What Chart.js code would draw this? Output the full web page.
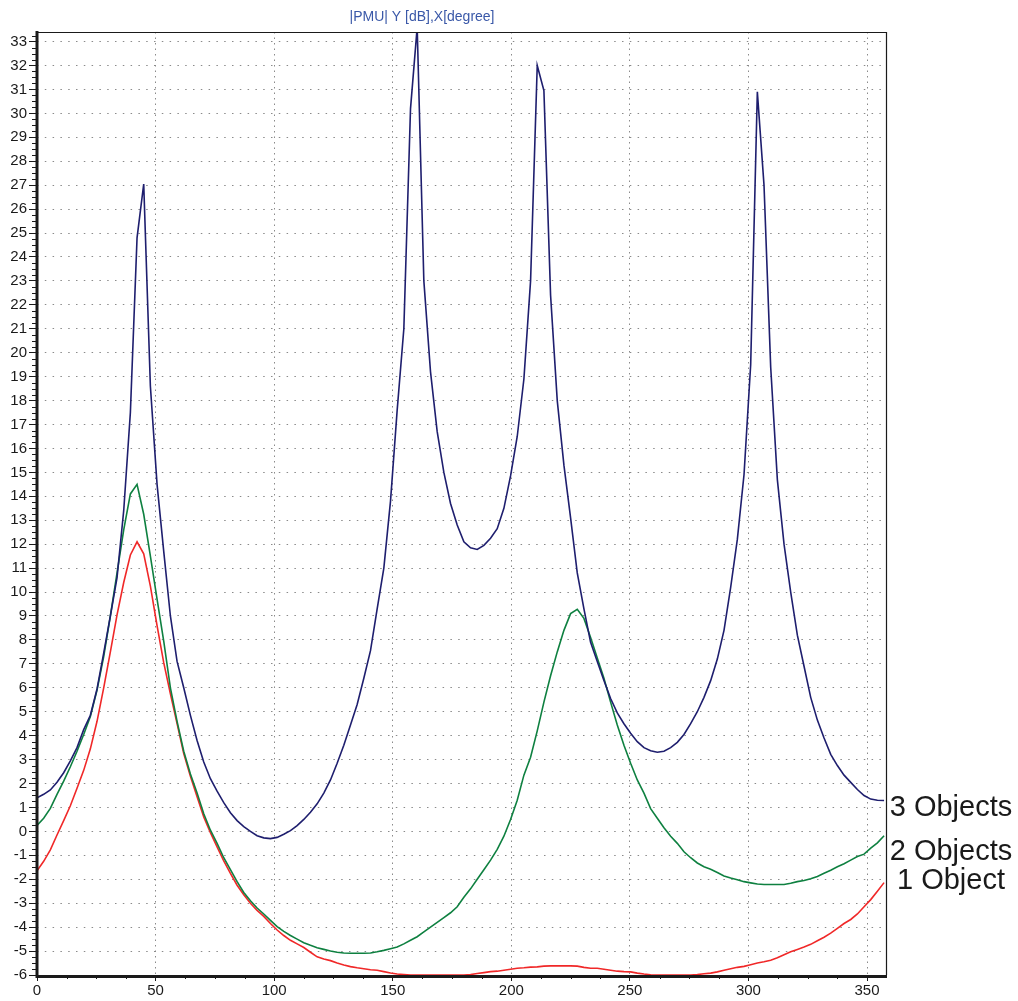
<!DOCTYPE html>
<html>
<head>
<meta charset="utf-8">
<script src="https://cdn.jsdelivr.net/npm/chart.js@4/dist/chart.umd.min.js"></script>
<style>
  html, body { margin: 0; padding: 0; background: #fff; }
  #wrap { width: 1018px; height: 1001px; }
</style>
</head>
<body>
<div id="wrap"><canvas id="myChart" width="1018" height="1001"></canvas></div>
<script>
// sampling grid: 128 angles over 360 degrees
const degrees = Array.from({length: 128}, (_, i) => i * 360 / 128);

const oneObject = [
  -1.65, -1.25, -0.77, -0.15, 0.45, 1.07, 1.8, 2.55, 3.45, 4.6,
  6.0, 7.5, 9.05, 10.4, 11.55, 12.1, 11.6, 10.25, 8.6, 7.05,
  5.75, 4.5, 3.25, 2.3, 1.45, 0.6, -0.05, -0.65, -1.23, -1.75,
  -2.25, -2.65, -3.0, -3.3, -3.55, -3.85, -4.12, -4.35, -4.55, -4.7,
  -4.85, -5.05, -5.24, -5.33, -5.4, -5.5, -5.58, -5.65, -5.7, -5.74,
  -5.78, -5.8, -5.86, -5.92, -5.96, -5.98, -6.0, -6.0, -6.0, -6.0,
  -6.0, -6.0, -6.0, -6.0, -6.0, -5.98, -5.94, -5.9, -5.86, -5.84,
  -5.8, -5.76, -5.72, -5.7, -5.67, -5.66, -5.63, -5.62, -5.62, -5.62,
  -5.62, -5.63, -5.68, -5.72, -5.72, -5.76, -5.8, -5.84, -5.86, -5.87,
  -5.92, -5.96, -5.99, -6.0, -6.0, -6.0, -6.0, -6.0, -6.0, -5.98,
  -5.95, -5.92, -5.87, -5.8, -5.74, -5.68, -5.64, -5.57, -5.5, -5.45,
  -5.38, -5.28, -5.15, -5.03, -4.93, -4.83, -4.72, -4.57, -4.42, -4.25,
  -4.05, -3.85, -3.68, -3.45, -3.15, -2.85, -2.5, -2.14
];

const twoObjects = [
  0.25, 0.55, 0.96, 1.55, 2.1, 2.7, 3.35, 4.05, 4.8, 5.9,
  7.3, 9.0, 10.8, 12.6, 14.1, 14.5, 13.25, 11.5, 9.7, 7.95,
  6.0, 4.6, 3.35, 2.4, 1.6, 0.74, 0.05, -0.5, -1.1, -1.6,
  -2.1, -2.55, -2.9, -3.2, -3.45, -3.72, -3.98, -4.18, -4.35, -4.5,
  -4.65, -4.76, -4.86, -4.93, -5.0, -5.05, -5.08, -5.09, -5.09, -5.09,
  -5.08, -5.03, -4.97, -4.9, -4.83, -4.7, -4.55, -4.4, -4.2, -4.0,
  -3.8, -3.6, -3.4, -3.15, -2.75, -2.4, -2.0, -1.6, -1.2, -0.75,
  -0.2, 0.5, 1.3, 2.35, 3.1, 4.2, 5.4, 6.5, 7.5, 8.4,
  9.1, 9.28, 8.9, 8.1, 7.25, 6.4, 5.4, 4.45, 3.6, 2.85,
  2.15, 1.6, 0.95, 0.55, 0.15, -0.2, -0.5, -0.85, -1.1, -1.32,
  -1.48, -1.58, -1.72, -1.86, -1.95, -2.02, -2.1, -2.15, -2.2, -2.22,
  -2.22, -2.22, -2.22, -2.17, -2.1, -2.05, -1.98, -1.88, -1.75, -1.62,
  -1.48, -1.35, -1.2, -1.05, -0.95, -0.7, -0.48, -0.18
];

const threeObjects = [
  1.4, 1.55, 1.73, 2.05, 2.45, 2.95, 3.5, 4.25, 4.85, 5.95,
  7.45, 9.0, 10.6, 13.4, 17.5, 24.8, 27.05, 18.6, 14.5, 11.7,
  9.0, 7.1, 6.0, 4.85, 3.8, 2.9, 2.2, 1.68, 1.2, 0.78,
  0.45, 0.2, 0.0, -0.18, -0.27, -0.3, -0.25, -0.12, 0.03, 0.24,
  0.5, 0.8, 1.15, 1.6, 2.15, 2.85, 3.6, 4.45, 5.3, 6.4,
  7.55, 9.3, 11.0, 13.8, 17.6, 21.0, 30.2, 33.6, 23.0, 19.2,
  16.7, 15.0, 13.7, 12.8, 12.1, 11.85, 11.78, 11.95, 12.25, 12.65,
  13.5, 14.85, 16.5, 18.9, 23.0, 32.0, 30.95, 22.4, 18.0, 15.3,
  13.1, 10.8, 9.3, 7.9, 7.1, 6.3, 5.55, 4.95, 4.5, 4.1,
  3.75, 3.5, 3.37, 3.31, 3.35, 3.5, 3.72, 4.05, 4.5, 5.0,
  5.6, 6.3, 7.2, 8.4, 10.2, 12.2, 14.9, 19.5, 30.9, 27.0,
  19.4, 14.7, 12.0, 10.0, 8.2, 6.9, 5.6, 4.65, 3.9, 3.22,
  2.75, 2.35, 2.05, 1.75, 1.5, 1.35, 1.3, 1.29
];

const seriesLabels = ["3 Objects", "2 Objects", "1 Object"];
const titleText = "|PMU| Y [dB],X[degree]";

const toPoints = (vals) => vals.map((v, i) => ({x: degrees[i], y: v}));

// axes lines, minor ticks, title and the end labels
const decor = {
  id: "decor",
  afterDatasetsDraw(chart) {
    const {ctx, chartArea: a, scales} = chart;
    ctx.save();
    ctx.strokeStyle = "#1a1a1a";
    ctx.lineWidth = 1;
    // minor ticks y
    for (let v = -6; v <= 33.4; v += 0.25) {
      if (Math.abs(v - Math.round(v)) < 0.01) continue;
      const y = Math.round(scales.y.getPixelForValue(v)) + 0.5;
      ctx.beginPath(); ctx.moveTo(a.left - 5, y); ctx.lineTo(a.left, y); ctx.stroke();
    }
    // minor ticks x
    for (let v = 12.5; v <= 358; v += 12.5) {
      if (v % 50 === 0) continue;
      const x = Math.round(scales.x.getPixelForValue(v)) + 0.5;
      ctx.beginPath(); ctx.moveTo(x, a.bottom); ctx.lineTo(x, a.bottom + 4); ctx.stroke();
    }
    // frame
    ctx.lineWidth = 1.2;
    ctx.beginPath();
    ctx.moveTo(a.left, a.top + 0.5); ctx.lineTo(a.right, a.top + 0.5);
    ctx.moveTo(a.right + 0.5, a.top); ctx.lineTo(a.right + 0.5, a.bottom);
    ctx.stroke();
    ctx.lineWidth = 3;
    ctx.beginPath();
    ctx.moveTo(a.left, a.top - 1); ctx.lineTo(a.left, a.bottom + 1.5);
    ctx.lineTo(a.right + 1, a.bottom + 1.5);
    ctx.stroke();

    ctx.fillStyle = "#3a58a8";
    ctx.font = "14px 'Liberation Sans', Arial, sans-serif";
    ctx.textAlign = "center";
    ctx.textBaseline = "alphabetic";
    ctx.fillText(titleText, 422, 21);

    ctx.fillStyle = "#1a1a1a";
    ctx.font = "29px 'Liberation Sans', Arial, sans-serif";
    ctx.textAlign = "center";
    const cx = 951;
    ctx.fillText(seriesLabels[0], cx, 816);
    ctx.fillText(seriesLabels[1], cx, 860);
    ctx.fillText(seriesLabels[2], cx, 889);
    ctx.restore();
  }
};

const tickFont = {family: "'Liberation Sans', Arial, sans-serif", size: 15};

new Chart(document.getElementById("myChart"), {
  type: "line",
  data: {
    datasets: [
      {label: seriesLabels[0], data: toPoints(threeObjects), borderColor: "#1e1e6e", borderWidth: 1.6},
      {label: seriesLabels[1], data: toPoints(twoObjects), borderColor: "#0e8040", borderWidth: 1.6},
      {label: seriesLabels[2], data: toPoints(oneObject), borderColor: "#f02828", borderWidth: 1.6}
    ]
  },
  options: {
    responsive: false,
    animation: false,
    layout: {padding: {top: 32, right: 132, left: 0, bottom: 0}},
    elements: {point: {radius: 0}, line: {tension: 0}},
    plugins: {legend: {display: false}, tooltip: {enabled: false}},
    scales: {
      x: {
        type: "linear",
        min: 0,
        max: 358,
        afterFit(scale) { scale.height = 26; },
        ticks: {stepSize: 50, includeBounds: false, color: "#1a1a1a", font: tickFont, padding: 1, maxRotation: 0},
        grid: {color: "#8a8a8a", lineWidth: 1, tickColor: "#1a1a1a", tickLength: 6, tickBorderDash: []},
        border: {display: false, dash: [1.5, 4]}
      },
      y: {
        min: -6,
        max: 33.4,
        afterFit(scale) { scale.width = 37; },
        ticks: {stepSize: 1, includeBounds: false, color: "#1a1a1a", font: tickFont, padding: 2},
        grid: {color: "#8a8a8a", lineWidth: 1, tickColor: "#1a1a1a", tickLength: 8, tickBorderDash: []},
        border: {display: false, dash: [1.5, 6.3]}
      }
    }
  },
  plugins: [decor]
});
</script>
</body>
</html>
